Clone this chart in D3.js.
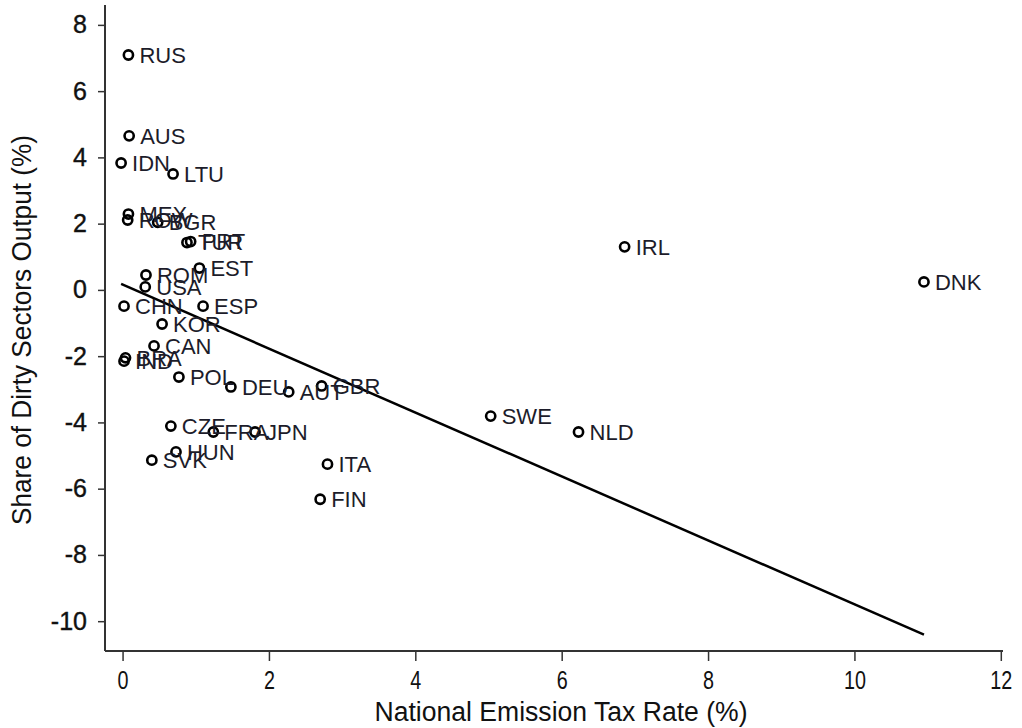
<!DOCTYPE html>
<html>
<head>
<meta charset="utf-8">
<script src="https://cdn.jsdelivr.net/npm/d3@7"></script>
<style>
  html, body { margin: 0; padding: 0; background: #fff; }
  svg { display: block; }
</style>
</head>
<body>
<svg id="chart" width="1022" height="728"></svg>
<script>
// Country codes, emission tax rate (%) and change in dirty-sector output share (%)
const countries = ["RUS","AUS","IDN","LTU","MEX","ROW","BGR","TUR","PRT","EST","ROM","USA","CHN","ESP","KOR","CAN","BRA","IND","POL","DEU","AUT","GBR","SWE","NLD","IRL","DNK","CZE","FRA","JPN","HUN","SVK","ITA","FIN"];
const taxRate   = [0.08, 0.09, -0.02, 0.69, 0.08, 0.07, 0.48, 0.88, 0.93, 1.05, 0.32, 0.31, 0.02, 1.10, 0.54, 0.43, 0.04, 0.02, 0.77, 1.48, 2.27, 2.72, 5.03, 6.23, 6.86, 10.95, 0.66, 1.24, 1.81, 0.73, 0.40, 2.80, 2.70];
const dirtyShare= [7.09, 4.65, 3.83, 3.50, 2.29, 2.11, 2.04, 1.43, 1.46, 0.66, 0.45, 0.09, -0.49, -0.49, -1.03, -1.69, -2.05, -2.15, -2.63, -2.93, -3.08, -2.90, -3.81, -4.29, 1.30, 0.24, -4.11, -4.29, -4.29, -4.89, -5.14, -5.26, -6.32];

// Linear fit: share = fitIntercept + fitSlope * rate
const fitIntercept = 0.16;
const fitSlope = -0.965;

const xTicks = [0, 2, 4, 6, 8, 10, 12];
const yTicks = [8, 6, 4, 2, 0, -2, -4, -6, -8, -10];

const xTitle = "National Emission Tax Rate (%)";
const yTitle = "Share of Dirty Sectors Output (%)";

const svg = d3.select("#chart");
const x = d3.scaleLinear().domain([-0.24, 12.03]).range([105, 1003]);
const y = d3.scaleLinear().domain([-10.9, 8.6]).range([651, 5]);

const font = "'Liberation Sans', Arial, sans-serif";

// Axes
const xAxis = svg.append("g")
  .attr("transform", `translate(0,${y.range()[0]})`)
  .call(d3.axisBottom(x).tickValues(xTicks).tickSize(10).tickPadding(10).tickFormat(d3.format("d")));
xAxis.select(".domain").attr("stroke", "#333").attr("stroke-width", 2).attr("d", `M${x.range()[0]},0H${x.range()[1]}`);
xAxis.selectAll(".tick line").attr("stroke", "#333").attr("stroke-width", 1.5);
xAxis.selectAll(".tick text").attr("font-family", font)
  .attr("font-size", 26).attr("fill", "#111")
  .attr("transform", "scale(0.76,1)");

const yAxis = svg.append("g")
  .attr("transform", `translate(${x.range()[0]},0)`)
  .call(d3.axisLeft(y).tickValues(yTicks).tickSize(7).tickPadding(11).tickFormat(d3.format("d")));
yAxis.select(".domain").attr("stroke", "#333").attr("stroke-width", 2).attr("d", `M0,${y.range()[1]}V${y.range()[0]}`);
yAxis.selectAll(".tick line").attr("stroke", "#333").attr("stroke-width", 1.5);
yAxis.selectAll(".tick text").attr("font-family", font).attr("font-size", 25).attr("fill", "#111")
  .attr("stroke", "#111").attr("stroke-width", 0.4)
  .text(d => d < 0 ? "-" + Math.abs(d) : d);

// Axis titles (narrow lettering)
svg.append("text")
  .attr("x", 561).attr("y", 721)
  .attr("text-anchor", "middle")
  .attr("font-family", font).attr("font-size", 27).attr("fill", "#111")
  .attr("textLength", 373).attr("lengthAdjust", "spacingAndGlyphs")
  .text(xTitle);
svg.append("text")
  .attr("transform", `translate(31,${330}) rotate(-90)`)
  .attr("text-anchor", "middle")
  .attr("font-family", font).attr("font-size", 27).attr("fill", "#111")
  .attr("textLength", 390).attr("lengthAdjust", "spacingAndGlyphs")
  .text(yTitle);

// Fitted line across the observed range of tax rates
const [xMin, xMax] = d3.extent(taxRate);
svg.append("line")
  .attr("x1", x(xMin)).attr("y1", y(fitIntercept + fitSlope * xMin))
  .attr("x2", x(xMax)).attr("y2", y(fitIntercept + fitSlope * xMax))
  .attr("stroke", "#000").attr("stroke-width", 2.5);

// Points with country labels
const pts = countries.map((c, i) => ({ c, tx: taxRate[i], sh: dirtyShare[i] }));
const g = svg.append("g");
g.selectAll("circle").data(pts).join("circle")
  .attr("cx", d => x(d.tx)).attr("cy", d => y(d.sh))
  .attr("r", 4.6)
  .attr("fill", "none").attr("stroke", "#000").attr("stroke-width", 2.6);
g.selectAll("text").data(pts).join("text")
  .attr("x", d => x(d.tx) + 11).attr("y", d => y(d.sh))
  .attr("dy", "0.36em")
  .attr("font-family", font).attr("font-size", 22).attr("fill", "#1c1c2a")
  .text(d => d.c);
</script>
</body>
</html>
